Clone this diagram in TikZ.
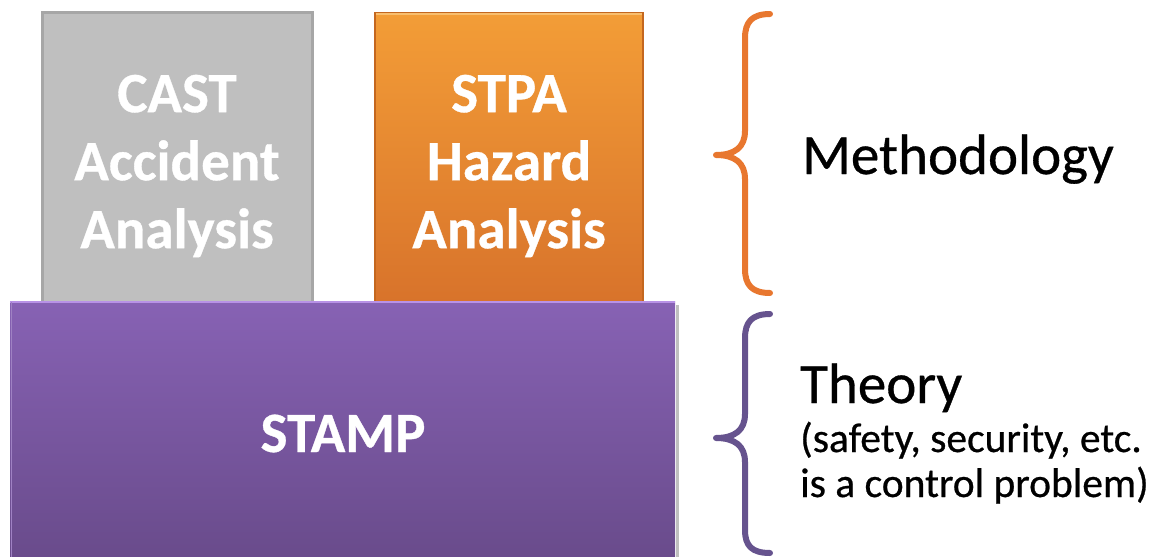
\documentclass[tikz,border=0pt]{standalone}
\usepackage{fontspec}
\setmainfont{Carlito}
\newfontfamily\sidefont[FakeBold=0.6]{Carlito}
\newfontfamily\boxfont[FakeBold=0.6]{Carlito Bold}
\definecolor{grayfill}{HTML}{BFBFBF}
\definecolor{grayedge}{HTML}{A6A6A6}
\definecolor{orangetop}{HTML}{F39D37}
\definecolor{orangebot}{HTML}{D8732B}
\definecolor{orangeedge}{HTML}{C4671F}
\definecolor{orangehi}{HTML}{F8BE6E}
\definecolor{purpletop}{HTML}{8762B4}
\definecolor{purplebot}{HTML}{694B8B}
\definecolor{purplehi}{HTML}{B892E6}
\definecolor{bracorange}{HTML}{E8772F}
\definecolor{bracpurple}{HTML}{66538E}
\tikzset{
  boxlabel/.style={text=white, align=center, inner sep=0pt,
    font=\boxfont\fontsize{57}{68}\selectfont},
  sidelabel/.style={text=black, anchor=base west, inner sep=0pt,
    font=\sidefont\fontsize{57}{68}\selectfont},
  smalllabel/.style={text=black, anchor=base west, inner sep=0pt,
    font=\sidefont\fontsize{41.5}{45}\selectfont},
  bracket/.style={line width=6pt, line cap=round, line join=round}
}
\begin{document}
\begin{tikzpicture}[x=1pt,y=-1pt]
\useasboundingbox (0,0) rectangle (1165,557);
% CAST box
\fill[grayedge] (41,11) rectangle (314,302);
\fill[grayfill] (44,14) rectangle (311,302);
\node[boxlabel] (cast) at (177,166) {CAST\\Accident\\Analysis};
% STPA box
\shade[top color=orangetop, bottom color=orangebot] (375,13) rectangle (643,302);
\draw[orangeedge, line width=1.2pt] (375,302) -- (375,13) -- (643,13) -- (643,302);
\draw[orangehi, line width=1.5pt] (376,14) -- (642,14);
\node[boxlabel] (stpa) at (509,166) {STPA\\Hazard\\Analysis};
% STAMP box
\fill[black!25] (676,305) rectangle (679,557);
\shade[top color=purpletop, bottom color=purplebot] (10,301) rectangle (675,560);
\draw[purplehi, line width=2pt] (10,302) -- (675,302);
\draw[purpletop!80!white, line width=1pt] (11,302) -- (11,557);
\node[boxlabel, anchor=base] (stamp) at (343,452) {STAMP};
% braces
\draw[bracket, bracorange] (770,14) .. controls (752,14) and (745,22) .. (745,38)
  -- (745,131) .. controls (745,147) and (735,155) .. (716,155)
  .. controls (735,155) and (745,163) .. (745,179)
  -- (745,269) .. controls (745,285) and (752,293) .. (770,293);
\draw[bracket, bracpurple] (770,314) .. controls (752,314) and (745,322) .. (745,338)
  -- (745,414) .. controls (745,430) and (735,438) .. (716,438)
  .. controls (735,438) and (745,446) .. (745,462)
  -- (745,530) .. controls (745,546) and (752,553) .. (770,553);
% side labels
\node[sidelabel] (method) at (802,174) {Methodology};
\node[sidelabel] (theory) at (800,403) {Theory};
\node[smalllabel] (note1) at (800,452) {(safety, security, etc.};
\node[smalllabel] (note2) at (800,497) {is a control problem)};
\end{tikzpicture}
\end{document}
